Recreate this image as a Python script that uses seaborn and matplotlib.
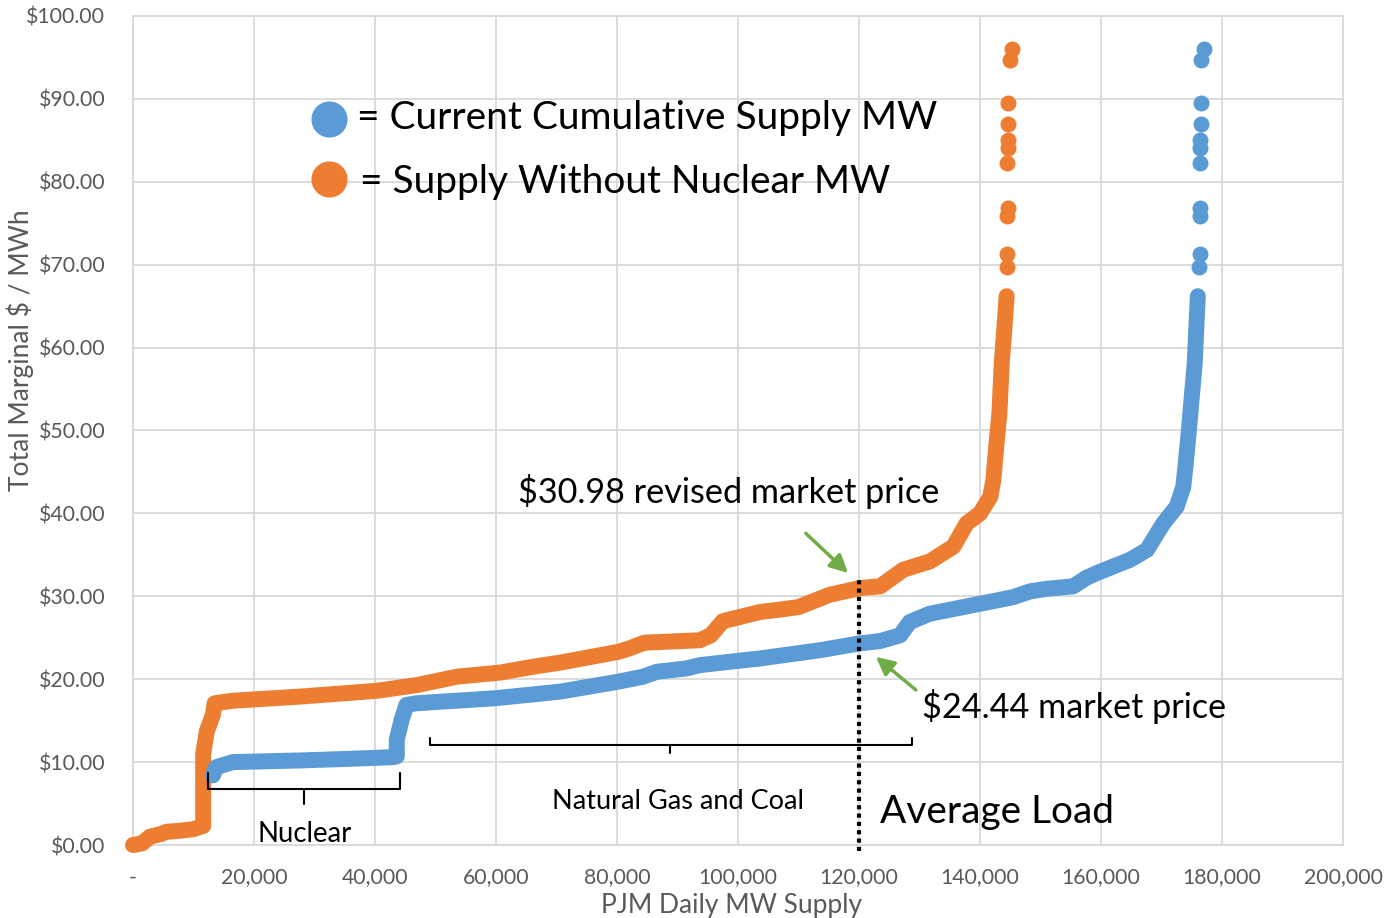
import matplotlib
matplotlib.use("Agg")
import matplotlib.pyplot as plt
import seaborn as sns
import pandas as pd

# ---- data (MW, $/MWh) ----
blue_mw = [13200, 13800, 16500, 27600, 36000, 43000, 43600, 43600, 44400, 45200, 46900, 49000,
           59800, 70600, 80200, 84300, 86600, 91500, 93700, 103600, 113600, 119900, 123500,
           126800, 128400, 131700, 140000, 145500, 148300, 151000, 155400, 157500, 159300,
           164800, 167600, 170300, 172500, 173600, 174000, 174400, 175000, 175500, 176000]
blue_price = [8.4, 9.4, 10.0, 10.2, 10.4, 10.6, 10.7, 12.7, 15.1, 16.9, 17.1, 17.2,
              17.7, 18.5, 19.7, 20.3, 20.9, 21.3, 21.7, 22.5, 23.5, 24.3, 24.6,
              25.3, 26.9, 27.9, 29.1, 29.9, 30.6, 30.9, 31.2, 32.2, 32.8,
              34.4, 35.6, 38.8, 40.8, 43.2, 46.0, 49.0, 54.0, 58.2, 66.2]
blue_top_mw = [177000, 176600, 176600, 176500, 176400, 176400, 176300, 176400, 176300, 176300, 176200]
blue_top_price = [96.0, 94.7, 89.5, 87.0, 85.1, 84.1, 82.3, 76.8, 75.9, 71.3, 69.7]

orange_mw = [0, 1500, 2800, 4500, 5600, 7500, 9900, 11600, 11600, 11600, 11600, 12200, 13200,
             13500, 16500, 27600, 40300, 47000, 53500, 60700, 66100, 70600, 80200, 82000,
             84500, 93700, 95500, 97500, 103600, 107000, 110000, 115200, 120200, 123500,
             127300, 131700, 135600, 137800, 140000, 141700, 142200, 142800, 143200, 143600,
             144000, 144400]
orange_price = [0.0, 0.2, 1.0, 1.3, 1.6, 1.7, 1.9, 2.3, 5.0, 8.0, 11.0, 13.7, 15.7,
                17.1, 17.4, 17.9, 18.6, 19.3, 20.3, 20.8, 21.5, 22.0, 23.3, 23.7,
                24.4, 24.7, 25.3, 27.0, 28.1, 28.4, 28.7, 30.2, 31.0, 31.2,
                33.2, 34.2, 36.0, 38.8, 40.0, 42.0, 44.0, 49.0, 52.0, 58.2,
                62.0, 66.2]
orange_top_mw = [145300, 144900, 144700, 144700, 144600, 144600, 144500, 144600, 144500, 144500, 144400]
orange_top_price = [96.0, 94.7, 89.5, 87.0, 85.1, 84.1, 82.3, 76.8, 75.9, 71.3, 69.7]

x_ticks = [0, 20000, 40000, 60000, 80000, 100000, 120000, 140000, 160000, 180000, 200000]
x_tick_labels = ["-", "20,000", "40,000", "60,000", "80,000", "100,000", "120,000",
                 "140,000", "160,000", "180,000", "200,000"]
y_ticks = [0, 10, 20, 30, 40, 50, 60, 70, 80, 90, 100]
y_tick_labels = ["${:.2f}".format(v) for v in y_ticks]

avg_load = 120000

BLUE = "#5b9bd5"
ORANGE = "#ed7d31"
GREEN = "#70ad47"
GRID = "#d9d9d9"
TXT = "#595959"

sns.set_theme(style="white")
plt.rcParams["font.family"] = ["Lato", "DejaVu Sans"]

fig = plt.figure(figsize=(13.87, 9.18), dpi=100)
ax = fig.add_axes([133/1387, 1-845/918, 1210/1387, 829/918])

df_b = pd.DataFrame({"mw": blue_mw, "price": blue_price})
df_o = pd.DataFrame({"mw": orange_mw, "price": orange_price})
df_bt = pd.DataFrame({"mw": blue_top_mw, "price": blue_top_price})
df_ot = pd.DataFrame({"mw": orange_top_mw, "price": orange_top_price})

LW = 11.5
for df, c in [(df_o, ORANGE), (df_b, BLUE)]:
    sns.lineplot(data=df, x="mw", y="price", sort=False, estimator=None, color=c,
                 lw=LW, solid_capstyle="round", solid_joinstyle="round", ax=ax,
                 clip_on=False, zorder=3)
for df, c in [(df_ot, ORANGE), (df_bt, BLUE)]:
    sns.scatterplot(data=df, x="mw", y="price", color=c, s=LW**2, linewidth=0,
                    ax=ax, zorder=3, clip_on=False)

ax.set_xlim(0, 200000)
ax.set_ylim(0, 100)
ax.set_xticks(x_ticks)
ax.set_xticklabels(x_tick_labels)
ax.set_yticks(y_ticks)
ax.set_yticklabels(y_tick_labels)
ax.grid(True, color=GRID, lw=1.3, zorder=0)
ax.set_axisbelow(True)
for s in ax.spines.values():
    s.set_color(GRID)
    s.set_linewidth(1.3)
ax.tick_params(axis="both", length=0, colors=TXT, labelsize=15.3)
ax.tick_params(axis="x", pad=16)
ax.tick_params(axis="y", pad=20)
ax.set_xlabel("")
ax.set_ylabel("")

ax.text(0.495, (845 - 906) / 829, "PJM Daily MW Supply", transform=ax.transAxes,
        color=TXT, fontsize=19, ha="center", va="center")
ax.text((20 - 133) / 1210, (845 - 350) / 829, "Total Marginal $ / MWh", transform=ax.transAxes,
        color=TXT, fontsize=19, ha="center", va="center", rotation=90)

# average load dotted line
ax.plot([avg_load, avg_load], [-0.7, 32.4], color="black", lw=3, ls=(0, (1, 1)),
        clip_on=False, zorder=4)

# legend-like markers and text
ax.scatter([32400], [87.6], s=26**2, color=BLUE, zorder=5, linewidth=0)
ax.scatter([32400], [80.3], s=26**2, color=ORANGE, zorder=5, linewidth=0)
ax.text(37000, 87.7, "= Current Cumulative Supply MW", fontsize=28, va="center", ha="left", color="black")
ax.text(37500, 80.0, "= Supply Without Nuclear MW", fontsize=28, va="center", ha="left", color="black")

ax.text(63600, 42.7, "$30.98 revised market price", fontsize=24.7, va="center", ha="left", color="black")
ax.text(130400, 16.7, "$24.44 market price", fontsize=24.6, va="center", ha="left", color="black")
ax.text(123500, 4.0, "Average Load", fontsize=28, va="center", ha="left", color="black")
ax.text(90100, 5.3, "Natural Gas and Coal", fontsize=19.5, va="center", ha="center", color="black")
ax.text(28300, 1.3, "Nuclear", fontsize=19.8, va="center", ha="center", color="black")

# arrows
arrow_kw = dict(arrowstyle="-|>,head_length=0.9,head_width=0.45", color=GREEN, lw=2.5,
                shrinkA=0, shrinkB=0)
ax.annotate("", xy=(118200, 32.8), xytext=(111200, 37.6), arrowprops=arrow_kw, zorder=6)
ax.annotate("", xy=(122800, 22.7), xytext=(129400, 18.7), arrowprops=arrow_kw, zorder=6)

# brackets
def bracket(x0, x1, y, up, xm, down):
    ax.plot([x0, x0, x1, x1], [up, y, y, up], color="black", lw=1.5, zorder=4,
            solid_joinstyle="round")
    ax.plot([xm, xm], [y, down], color="black", lw=1.5, zorder=4)

bracket(12400, 44100, 6.75, 8.7, 28300, 4.9)
bracket(49100, 128800, 12.06, 12.9, 88800, 11.1)

fig.savefig("out.png", dpi=100)
